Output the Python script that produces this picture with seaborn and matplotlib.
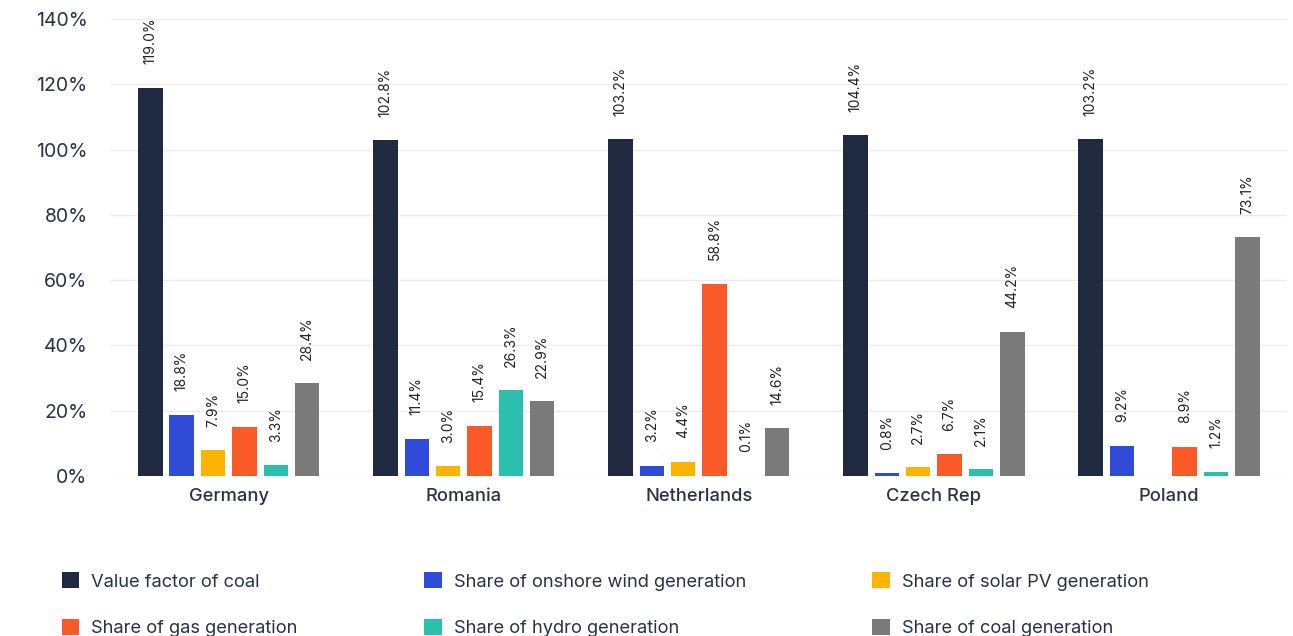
import matplotlib
matplotlib.use("Agg")
import matplotlib.pyplot as plt
import seaborn as sns
import pandas as pd
import numpy as np
from matplotlib.patches import Patch

countries = ["Germany", "Romania", "Netherlands", "Czech Rep", "Poland"]
series = ["Value factor of coal", "Share of onshore wind generation", "Share of solar PV generation",
          "Share of gas generation", "Share of hydro generation", "Share of coal generation"]
value_factor = [119.0, 102.8, 103.2, 104.4, 103.2]
onshore_wind = [18.8, 11.4, 3.2, 0.8, 9.2]
solar_pv = [7.9, 3.0, 4.4, 2.7, np.nan]
gas = [15.0, 15.4, 58.8, 6.7, 8.9]
hydro = [3.3, 26.3, 0.1, 2.1, 1.2]
coal = [28.4, 22.9, 14.6, 44.2, 73.1]
colors = ["#1f2a40", "#2f4bd8", "#fbb400", "#f95a28", "#2bbfae", "#7a7a7a"]
yticks = [0, 20, 40, 60, 80, 100, 120, 140]

values = [value_factor, onshore_wind, solar_pv, gas, hydro, coal]
rows = []
for s, vals in zip(series, values):
    for c, v in zip(countries, vals):
        rows.append({"country": c, "series": s, "value": v})
df = pd.DataFrame(rows)

sns.set_theme(style="white")
plt.rcParams["font.family"] = ["Inter", "DejaVu Sans"]
text_color = "#2a3248"

fig = plt.figure(figsize=(12.93, 6.36), dpi=100)
ax = fig.add_axes([0.086, 0.2516, 0.909, 0.7184])

sns.barplot(data=df, x="country", y="value", hue="series", hue_order=series, order=countries,
            palette=colors, saturation=1, width=0.8, gap=0.22, linewidth=0, ax=ax, legend=False)

for cont in ax.containers:
    labels = [("" if np.isnan(b.get_height()) else f"{b.get_height():.1f}%") for b in cont]
    ax.bar_label(cont, labels=labels, rotation=90, padding=17, fontsize=10, color="#222222")

ax.set_ylim(0, 140)
ax.set_xlim(-0.5, 4.5)
ax.set_yticks(yticks)
ax.set_yticklabels([f"{t}%" for t in yticks], fontsize=14, color=text_color)
ax.tick_params(axis="y", length=0, pad=17)
ax.tick_params(axis="x", length=0, pad=9)
for lab in ax.get_xticklabels():
    lab.set_fontsize(13.2)
    lab.set_color(text_color)
    lab.set_fontweight("medium")
ax.set_xlabel("")
ax.set_ylabel("")
ax.grid(axis="y", color="#ececec", linewidth=1)
ax.set_axisbelow(True)
for sp in ax.spines.values():
    sp.set_visible(False)

handles = [Patch(facecolor=c, edgecolor="none") for c in colors]
order = [0, 3, 1, 4, 2, 5]
leg = fig.legend([handles[i] for i in order], [series[i] for i in order], ncol=3,
                 loc="lower left", bbox_to_anchor=(0.038, -0.022), frameon=False,
                 fontsize=13.2, handlelength=0.95, handleheight=0.95, handletextpad=0.65,
                 labelspacing=1.55, columnspacing=6.9, borderaxespad=0.3)
for t in leg.get_texts():
    t.set_color(text_color)

fig.savefig("out.png", dpi=100)
